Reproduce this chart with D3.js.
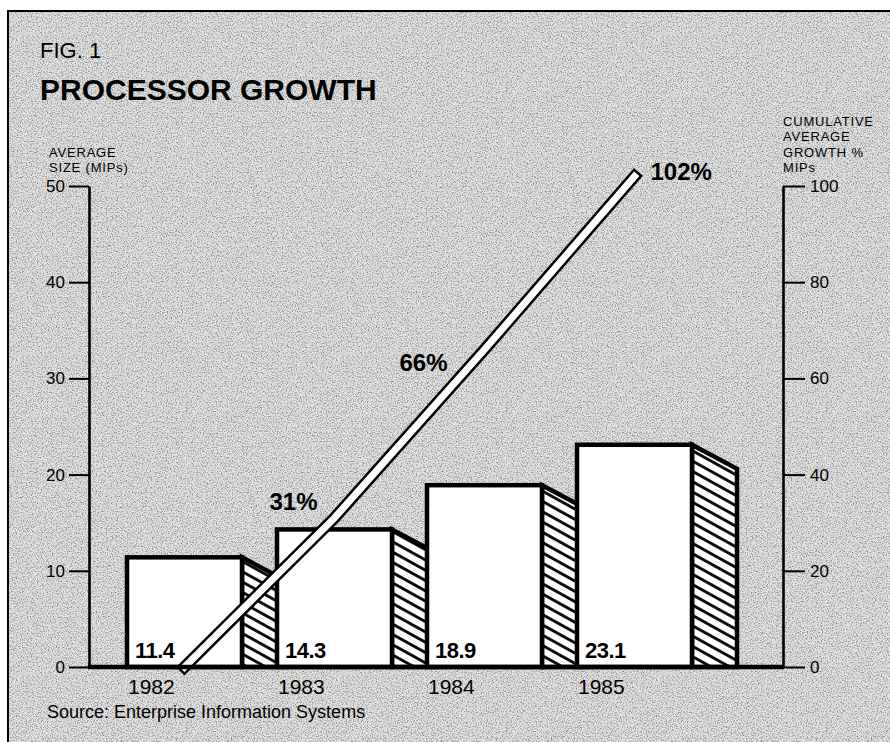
<!DOCTYPE html>
<html>
<head>
<meta charset="utf-8">
<script src="https://cdn.jsdelivr.net/npm/d3@7"></script>
<style>
  html, body { margin: 0; padding: 0; background: #fff; }
  svg { display: block; font-family: "Liberation Sans", Arial, Helvetica, sans-serif; }
</style>
</head>
<body>
<svg id="chart" width="890" height="742"></svg>
<script>
// ---- data ----
const years = ["1982", "1983", "1984", "1985"];
const avgSize = [11.4, 14.3, 18.9, 23.1];          // average processor size, MIPs
const cumGrowth = [0, 31, 66, 102];                 // cumulative average growth, %
const growthLabels = ["", "31%", "66%", "102%"];
const leftTicks = [0, 10, 20, 30, 40, 50];
const rightTicks = [0, 20, 40, 60, 80, 100];
const leftTitle = ["AVERAGE", "SIZE (MIPs)"];
const rightTitle = ["CUMULATIVE", "AVERAGE", "GROWTH %", "MIPs"];

// ---- layout ----
const W = 890, H = 742;
const svg = d3.select("#chart");
const yBase = 667, yTop = 186;
const axisLX = 89, axisRX = 783;
const frontW = 115, sideW = 45, sideDrop = 24;

const yL = d3.scaleLinear().domain([0, 50]).range([yBase, yTop]);
const yR = d3.scaleLinear().domain([0, 100]).range([yBase, yTop]);
const x = d3.scaleBand().domain(years).range([127, 727]).padding(0);
const xMid = d => x(d) + frontW / 2;

const defs = svg.append("defs");

// speckled screen for the panel background
const grain = defs.append("filter").attr("id", "grain")
  .attr("x", 0).attr("y", 0).attr("width", "100%").attr("height", "100%");
grain.append("feTurbulence").attr("type", "fractalNoise")
  .attr("baseFrequency", 0.8).attr("numOctaves", 2).attr("seed", 7);
grain.append("feColorMatrix").attr("type", "matrix")
  .attr("values", "0 0 0 0 0.25  0 0 0 0 0.25  0 0 0 0 0.25  3 0 0 0 -1.35");

// diagonal hatching for the bar sides
const hatch = defs.append("pattern").attr("id", "hatch")
  .attr("patternUnits", "userSpaceOnUse")
  .attr("width", 10).attr("height", 9)
  .attr("patternTransform", "rotate(29)");
hatch.append("rect").attr("width", 10).attr("height", 9).attr("fill", "#fff");
hatch.append("line").attr("x1", -1).attr("x2", 11).attr("y1", 4.5).attr("y2", 4.5)
  .attr("stroke", "#000").attr("stroke-width", 2.8);

// ---- panel ----
svg.append("rect").attr("x", 8).attr("y", 11).attr("width", W - 8).attr("height", H - 11)
  .attr("fill", "#e2e2e2");
svg.append("rect").attr("x", 8).attr("y", 11).attr("width", W - 8).attr("height", H - 11)
  .attr("fill", "#fff").attr("filter", "url(#grain)");
svg.append("path").attr("d", `M8,${H} V11 H${W}`)
  .attr("fill", "none").attr("stroke", "#000").attr("stroke-width", 2);

// ---- titles ----
svg.append("text").attr("x", 40).attr("y", 58).attr("font-size", 22).text("FIG. 1");
svg.append("text").attr("x", 40).attr("y", 100).attr("font-size", 30)
  .attr("font-weight", "bold").text("PROCESSOR GROWTH");

// stacked axis titles
const headSize = 13, headStep = 15.5, headBottom = yTop - 14;
function stackedTitle(lines, x0) {
  svg.append("g").selectAll("text").data(lines).join("text")
    .attr("x", x0)
    .attr("y", (d, i) => headBottom - (lines.length - 1 - i) * headStep)
    .attr("font-size", headSize).attr("letter-spacing", 0.8)
    .text(d => d);
}
stackedTitle(leftTitle, 49);
stackedTitle(rightTitle, axisRX);

// ---- axes ----
const gL = svg.append("g").attr("transform", `translate(${axisLX},0)`)
  .call(d3.axisLeft(yL).tickValues(leftTicks).tickSize(20).tickSizeOuter(0).tickPadding(4));
const gR = svg.append("g").attr("transform", `translate(${axisRX},0)`)
  .call(d3.axisRight(yR).tickValues(rightTicks).tickSize(22).tickSizeOuter(0).tickPadding(5));
[gL, gR].forEach(g => {
  g.attr("font-family", null).attr("font-size", null);
  g.select(".domain").attr("stroke", "#000").attr("stroke-width", 2.6);
  g.selectAll(".tick line").attr("stroke", "#000").attr("stroke-width", 2);
  g.selectAll(".tick text").attr("font-size", 17).attr("fill", "#000");
});

// ---- bars ----
const bars = svg.append("g");
years.forEach((yr, i) => {
  const x0 = x(yr), top = yL(avgSize[i]);
  const xr = x0 + frontW;
  bars.append("path")
    .attr("d", `M${xr},${top} L${xr + sideW},${top + sideDrop} L${xr + sideW},${yBase} L${xr},${yBase} Z`)
    .attr("fill", "url(#hatch)").attr("stroke", "#000").attr("stroke-width", 4.5)
    .attr("stroke-linejoin", "miter");
  bars.append("rect").attr("x", x0).attr("y", top)
    .attr("width", frontW).attr("height", yBase - top)
    .attr("fill", "#fff").attr("stroke", "#000").attr("stroke-width", 4.5);
});

// value labels inside the bars
svg.append("g").selectAll("text").data(years).join("text")
  .attr("x", d => x(d) + 8).attr("y", 658)
  .attr("font-size", 22).attr("font-weight", "bold").attr("letter-spacing", -0.5)
  .text((d, i) => avgSize[i].toFixed(1));

// ---- cumulative growth band ----
const pts = years.map((yr, i) => [xMid(yr), yR(cumGrowth[i])]);
const line = d3.line();
svg.append("path").attr("d", line(pts))
  .attr("fill", "none").attr("stroke", "#000").attr("stroke-width", 12)
  .attr("stroke-linejoin", "miter").attr("stroke-linecap", "square");
svg.append("path").attr("d", line(pts))
  .attr("fill", "none").attr("stroke", "#fff").attr("stroke-width", 7)
  .attr("stroke-linejoin", "miter").attr("stroke-linecap", "square");

// growth labels beside the band
const labelOffset = [[0, 0, "end"], [-17, -8, "end"], [-37, 21, "end"], [16, 4, "start"]];
svg.append("g").selectAll("text").data(growthLabels).join("text")
  .attr("x", (d, i) => pts[i][0] + labelOffset[i][0])
  .attr("y", (d, i) => pts[i][1] + labelOffset[i][1])
  .attr("text-anchor", (d, i) => labelOffset[i][2])
  .attr("font-size", 24).attr("font-weight", "bold")
  .text(d => d);

// baseline
svg.append("line").attr("x1", axisLX - 1).attr("x2", axisRX + 1)
  .attr("y1", yBase).attr("y2", yBase)
  .attr("stroke", "#000").attr("stroke-width", 4.5);

// ---- year labels and source ----
svg.append("g").selectAll("text").data(years).join("text")
  .attr("x", d => x(d) + 1).attr("y", 694)
  .attr("font-size", 21).text(d => d);
svg.append("text").attr("x", 47).attr("y", 718).attr("font-size", 18)
  .text("Source: Enterprise Information Systems");
</script>
</body>
</html>
